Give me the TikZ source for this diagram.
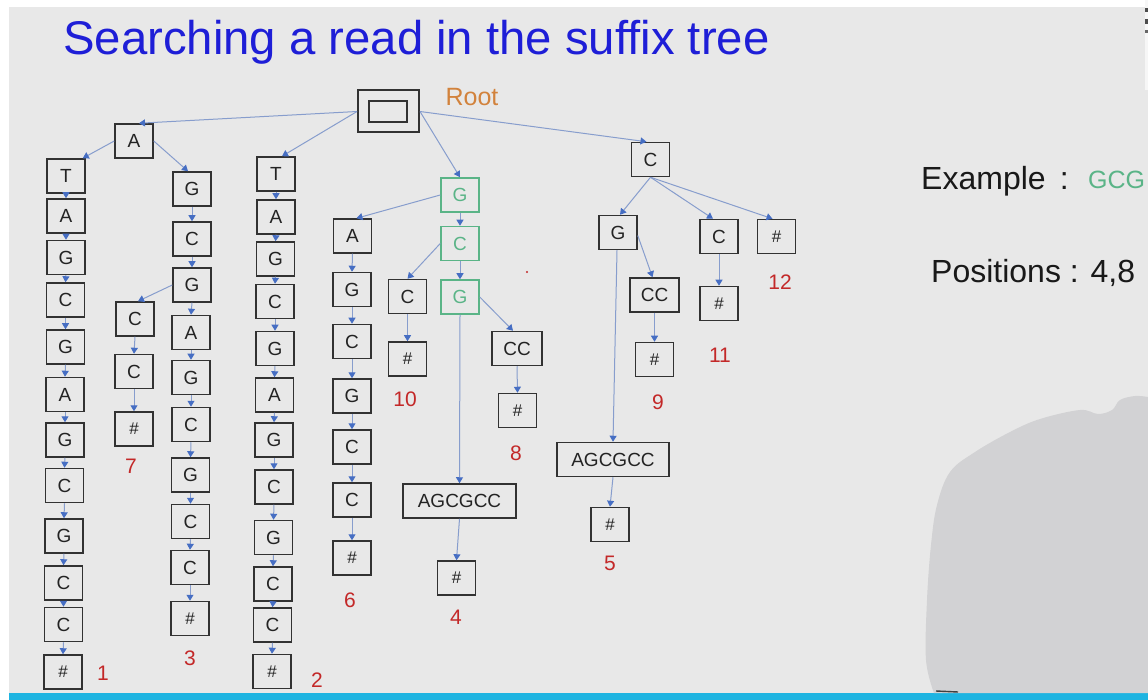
\documentclass[tikz,border=0pt]{standalone}
\usepackage{fontspec}
\setmainfont{Liberation Sans}
\usetikzlibrary{arrows.meta}
\definecolor{bg}{RGB}{232,232,232}
\definecolor{boxc}{RGB}{50,50,50}
\definecolor{txt}{RGB}{35,35,35}
\definecolor{grn}{RGB}{90,180,135}
\definecolor{edc}{RGB}{135,157,205}
\definecolor{tipc}{RGB}{70,110,195}
\definecolor{lred}{RGB}{195,40,40}
\definecolor{rootor}{RGB}{210,130,60}
\definecolor{titleblue}{RGB}{30,30,215}
\definecolor{cyanbar}{RGB}{30,180,225}
\definecolor{blobc}{RGB}{210,210,212}
\tikzset{
  nd/.style={draw=boxc, line width=1.5pt, fill=bg, minimum width=38pt, minimum height=34pt, inner sep=0pt, text=txt, font=\fontsize{19}{20}\selectfont},
  hs/.style={nd, font=\fontsize{17}{18}\selectfont},
  gn/.style={nd, draw=grn, text=grn},
  lab/.style={text=lred, inner sep=0pt, font=\fontsize{21}{22}\selectfont},
  ed/.style={draw=edc, line width=1pt, -{Triangle[length=6pt,width=7pt,color=tipc]}},
}
\begin{document}
\begin{tikzpicture}[x=1pt,y=-1pt]
\useasboundingbox (0,0) rectangle (1148,700);
\fill[white] (0,0) rectangle (1148,700);
\fill[bg] (9,7) rectangle (1148,693);
\fill[cyanbar] (9,693) rectangle (1148,700);
% grey blob
\fill[blobc] plot[smooth, tension=0.6] coordinates {(934,693) (926,660) (927,600) (931,545) (937,505) (950,472) (975,452) (1010,432) (1040,419) (1080,410) (1098,414) (1112,410) (1120,400) (1135,396) (1148,397)} -- (1148,693) -- cycle;
\draw[black!75, line width=1.4pt] (936,691) -- (958,692);
% top-right marks
\fill[bg!40!white] (1145,0) rectangle (1148,90);
\fill[black!70] (1145,8) rectangle (1148,12);
\fill[black!70] (1145,19) rectangle (1148,24);
\fill[black!60] (1145,30) rectangle (1148,33);
% stray dot
\fill[lred] (527,272) circle (1.2pt);

% title
\node[anchor=base west, text=titleblue, inner sep=0pt, font=\fontsize{47.3}{50}\selectfont] (title) at (63,55) {Searching a read in the suffix tree};

% root
\node[draw=boxc, line width=2pt, fill=bg, minimum width=61pt, minimum height=42pt, inner sep=0pt] (root) at (388.5,111.5) {};
\node[draw=boxc, line width=1.6pt, minimum width=38pt, minimum height=21pt, inner sep=0pt] (rootin) at (388,111.5) {};
\node[text=rootor, inner sep=0pt, font=\fontsize{25}{26}\selectfont] (rootlab) at (472,97) {Root};

% left subtree A
\node[nd] (a1) at (134,141) {A};
\node[nd] (l1a) at (66,176) {T};
\node[nd] (l1b) at (66,216) {A};
\node[nd] (l1c) at (66,257.5) {G};
\node[nd] (l1d) at (65.5,300) {C};
\node[nd] (l1e) at (65.5,347) {G};
\node[nd] (l1f) at (65,394.5) {A};
\node[nd] (l1g) at (65,440) {G};
\node[nd] (l1h) at (64.5,485.5) {C};
\node[nd] (l1i) at (64,536) {G};
\node[nd] (l1j) at (63.5,583) {C};
\node[nd] (l1k) at (63.5,624.5) {C};
\node[hs] (l1l) at (63,672) {\#};
\node[lab] (n1) at (103,673) {1};

\node[nd] (l3a) at (192,189) {G};
\node[nd] (l3b) at (192,239) {C};
\node[nd] (l3c) at (192,285) {G};
\node[nd] (l3d) at (191,332.5) {A};
\node[nd] (l3e) at (191,377.5) {G};
\node[nd] (l3f) at (191,424.5) {C};
\node[nd] (l3g) at (190.5,475) {G};
\node[nd] (l3h) at (190.5,521.5) {C};
\node[nd] (l3i) at (190,567.5) {C};
\node[hs] (l3j) at (190,618.5) {\#};
\node[lab] (n3) at (190,658) {3};

\node[nd] (c7a) at (135,319) {C};
\node[nd] (c7b) at (134,371.5) {C};
\node[hs] (c7c) at (134,429) {\#};
\node[lab] (n7) at (131,466) {7};

% subtree T
\node[nd] (l2a) at (276,174) {T};
\node[nd] (l2b) at (276,217) {A};
\node[nd] (l2c) at (275.5,259) {G};
\node[nd] (l2d) at (275,301.5) {C};
\node[nd] (l2e) at (275,348.5) {G};
\node[nd] (l2f) at (274.5,395) {A};
\node[nd] (l2g) at (274,440) {G};
\node[nd] (l2h) at (274,487) {C};
\node[nd] (l2i) at (273.5,537.5) {G};
\node[nd] (l2j) at (273,584) {C};
\node[nd] (l2k) at (272.5,625) {C};
\node[hs] (l2l) at (272,671.5) {\#};
\node[lab] (n2) at (317,680) {2};

% subtree G (green path)
\node[gn] (g1) at (460,195) {G};
\node[gn] (gc) at (460,243.5) {C};
\node[gn] (g2) at (460,297) {G};

\node[nd] (a6) at (352.5,236) {A};
\node[nd] (b6) at (352,289.5) {G};
\node[nd] (c6) at (352,341.5) {C};
\node[nd] (d6) at (352,396) {G};
\node[nd] (e6) at (352,447) {C};
\node[nd] (f6) at (352,500) {C};
\node[hs] (h6) at (352,558) {\#};
\node[lab] (n6) at (350,600) {6};

\node[nd] (c10) at (407.5,296.5) {C};
\node[hs] (h10) at (407.5,359) {\#};
\node[lab] (n10) at (405,399) {10};

\node[nd, minimum width=50pt] (cc8) at (517,348.5) {CC};
\node[hs] (h8) at (517.5,410.5) {\#};
\node[lab] (n8) at (516,453) {8};

\node[nd, minimum width=113pt] (ag4) at (459.5,501) {AGCGCC};
\node[hs] (h4) at (456.5,578) {\#};
\node[lab] (n4) at (456,617) {4};

% subtree C
\node[nd] (cr) at (650.5,159.5) {C};
\node[nd] (gr) at (618,232.5) {G};
\node[nd] (c11) at (719,236.5) {C};
\node[hs] (h12) at (776.5,236.5) {\#};
\node[lab] (n12) at (780,282) {12};
\node[nd, minimum width=49pt] (cc9) at (654.5,295) {CC};
\node[hs] (h9) at (654.5,359.5) {\#};
\node[lab] (n9) at (658,402) {9};
\node[hs] (h11) at (719,303.5) {\#};
\node[lab] (n11) at (720,355) {11};
\node[nd, minimum width=112pt] (ag5) at (613,459.5) {AGCGCC};
\node[hs] (h5) at (610,524.5) {\#};
\node[lab] (n5) at (610,563) {5};

% right texts
\node[anchor=base west, inner sep=0pt, text=black!90, font=\fontsize{32}{34}\selectfont] (ex) at (921,190) {Example\, :};
\node[anchor=base west, inner sep=0pt, text=grn, font=\fontsize{25}{26}\selectfont] (exg) at (1088,189) {GCG};
\node[anchor=base west, inner sep=0pt, text=black!90, font=\fontsize{32}{34}\selectfont] (pos) at (931,283) {Positions : 4,8};

% edges from root
\draw[ed] (root.west) -- ([xshift=5pt]a1.north);
\draw[ed] (root.west) -- ([xshift=6pt]l2a.north);
\draw[ed] (root.east) -- (g1.north);
\draw[ed] (root.east) -- ([xshift=-4pt]cr.north);
% diagonal edges
\draw[ed] (a1.west) -- ([xshift=-3pt]l1a.north east);
\draw[ed] (a1.east) -- ([xshift=-4pt]l3a.north);
\draw[ed] (l3c.west) -- ([xshift=3pt]c7a.north);
\draw[ed] (g1.west) -- ([xshift=4pt]a6.north);
\draw[ed] (gc.west) -- (c10.north);
\draw[ed] (g2.east) -- ([xshift=-4pt]cc8.north);
\draw[ed] (g2.south) -- (ag4.north);
\draw[ed] (cr.south) -- ([xshift=2pt]gr.north);
\draw[ed] (cr.south) -- ([xshift=-6pt]c11.north);
\draw[ed] (cr.south) -- ([xshift=-4pt]h12.north);
\draw[ed] ([yshift=-3pt]gr.east) -- ([xshift=-2pt]cc9.north);
\draw[ed] ([xshift=-1pt]gr.south) -- (ag5.north);
% vertical chains
\foreach \a/\b in {l1a/l1b,l1b/l1c,l1c/l1d,l1d/l1e,l1e/l1f,l1f/l1g,l1g/l1h,l1h/l1i,l1i/l1j,l1j/l1k,l1k/l1l,
  l3a/l3b,l3b/l3c,l3c/l3d,l3d/l3e,l3e/l3f,l3f/l3g,l3g/l3h,l3h/l3i,l3i/l3j,
  c7a/c7b,c7b/c7c,
  l2a/l2b,l2b/l2c,l2c/l2d,l2d/l2e,l2e/l2f,l2f/l2g,l2g/l2h,l2h/l2i,l2i/l2j,l2j/l2k,l2k/l2l,
  g1/gc,gc/g2,a6/b6,b6/c6,c6/d6,d6/e6,e6/f6,f6/h6,c10/h10,cc8/h8,ag4/h4,
  c11/h11,cc9/h9,ag5/h5}
  \draw[ed] (\a.south) -- (\b.north);
\end{tikzpicture}
\end{document}
